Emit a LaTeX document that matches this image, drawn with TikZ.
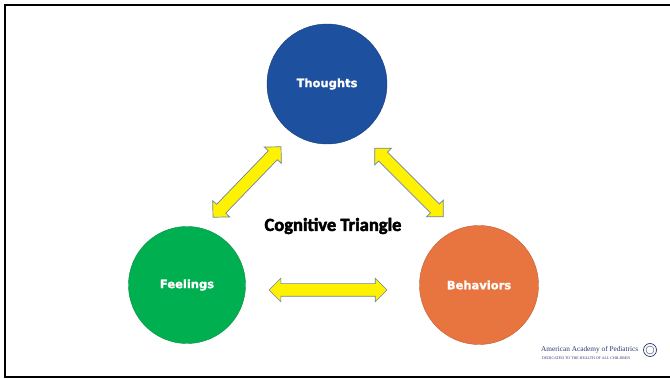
\documentclass[tikz,border=0pt]{standalone}
\usepackage{fontspec}
\setmainfont{Liberation Serif}
\newfontfamily\labelfont{DejaVu Sans Bold}[FakeBold=1.2]
\newfontfamily\titlefont{Carlito Bold}[FakeBold=2.5]
\usepackage{tikz}
\usetikzlibrary{shapes.arrows}
\definecolor{thoughtblue}{RGB}{30,80,160}
\definecolor{feelgreen}{RGB}{0,176,80}
\definecolor{behaveorange}{RGB}{232,117,64}
\definecolor{arrowedge}{RGB}{110,130,170}
\definecolor{aapnavy}{RGB}{45,55,110}

\begin{document}
\begin{tikzpicture}[x=1pt,y=-1pt,
		main node/.style={circle,draw,minimum size=119pt,inner sep=0pt,text=white,font=\labelfont\fontsize{11.5}{13}\selectfont},
		link/.style={double arrow,draw=arrowedge,fill=yellow,line width=0.7pt,inner xsep=0pt,inner ysep=6pt,minimum width=0pt,double arrow head extend=5.5pt}]
		
		\useasboundingbox (0,0) rectangle (670,379);
		\draw[line width=2pt] (670,5.5) -- (4.5,5.5) -- (4.5,377) -- (670,377);
		
		\node[main node,fill=thoughtblue,draw=thoughtblue!75!black,minimum size=120pt] (thoughts) at (327,84) {Thoughts};
		\node[main node,fill=feelgreen,draw=feelgreen!80!black,minimum size=117pt] (feelings) at (187,285) {Feelings};
		\node[main node,fill=behaveorange,draw=behaveorange!80!black] (behaviors) at (479,285) {Behaviors};
		
		\node[link,minimum height=98pt,rotate=46] (tf) at (247,182) {};
		\node[link,minimum height=97pt,rotate=-45] (tb) at (409,182.5) {};
		\node[link,minimum height=118pt] (fb) at (328,290) {};
		
		\node[font=\titlefont\fontsize{18.5}{22}\selectfont] (title) at (333,226) {Cognitive Triangle};
		
		\node[text=aapnavy,font=\fontsize{7.3}{8}\selectfont,anchor=west,inner sep=0pt] (aap) at (541,350) {American Academy of Pediatrics};
		\node[text=aapnavy,font=\fontsize{3.9}{4}\selectfont,anchor=west,inner sep=0pt] (motto) at (542,358.5) {DEDICATED TO THE HEALTH OF ALL CHILDREN};
		\node[circle,draw=aapnavy,line width=0.7pt,minimum size=13pt,inner sep=0pt] (seal) at (650,350) {};
		\node[circle,draw=aapnavy,line width=0.4pt,minimum size=8pt,inner sep=0pt] (sealin) at (seal) {};
\end{tikzpicture}
\end{document}
